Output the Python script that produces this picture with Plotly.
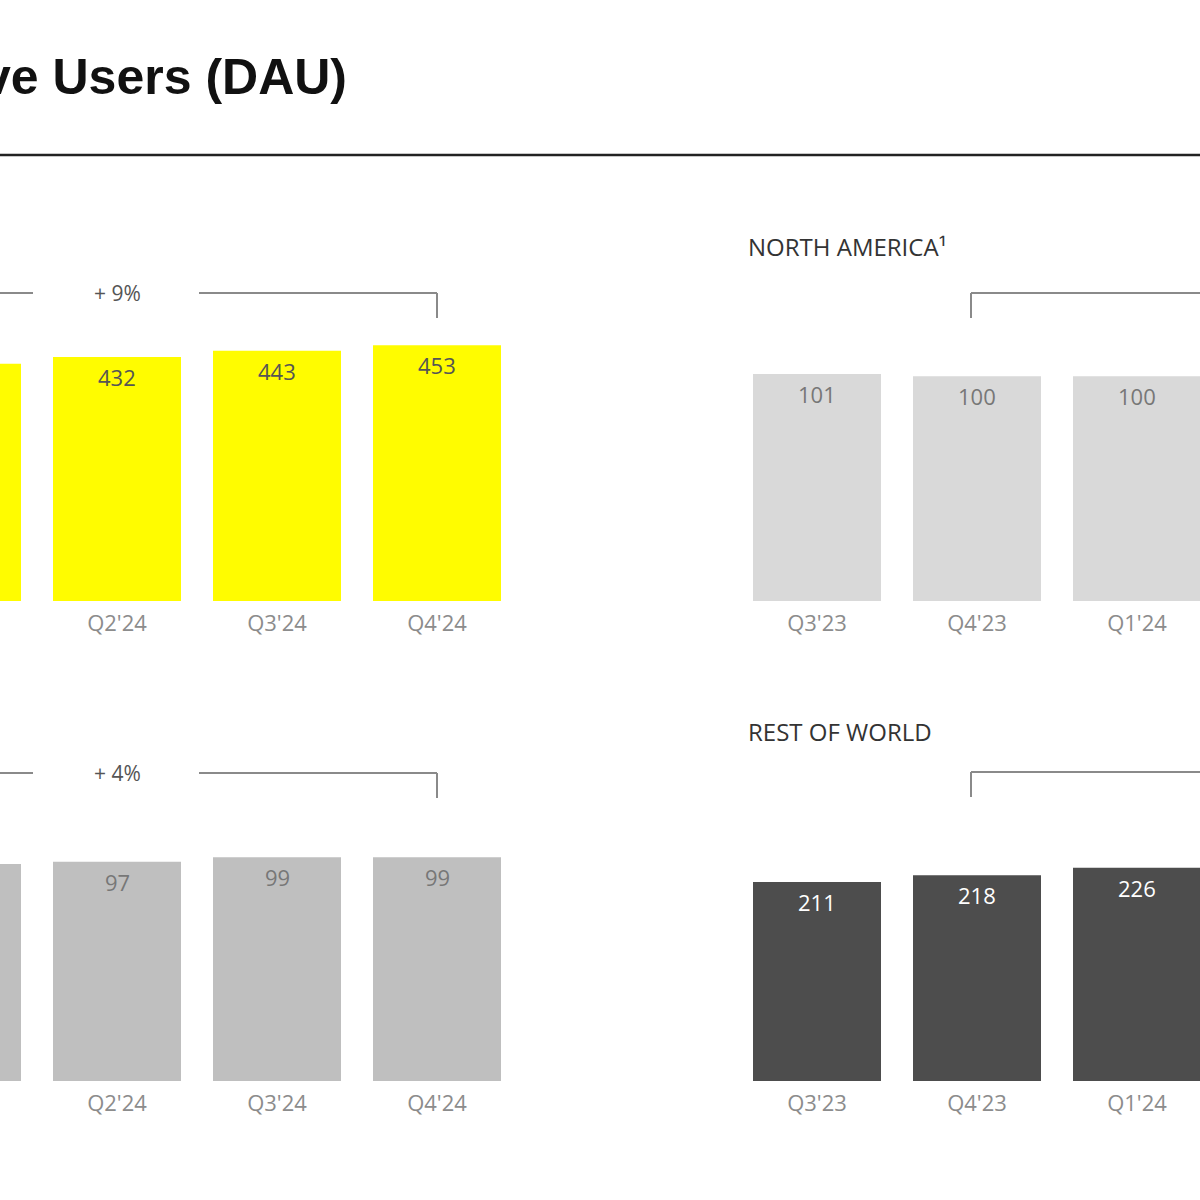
import plotly.graph_objects as go

# Daily Active Users (DAU), millions
global_quarters = ["Q1'24", "Q2'24", "Q3'24", "Q4'24"]
global_dau = [420, 432, 443, 453]
europe_dau = [96, 97, 99, 99]

region_quarters = ["Q3'23", "Q4'23", "Q1'24"]
na_dau = [101, 100, 100]
row_dau = [211, 218, 226]

global_growth = "+ 9%"
europe_growth = "+ 4%"

FONT = "Open Sans"
TICK_GREY = "#8c8c8c"
LINE_GREY = "#8a8a8a"

left_range = [0.26875, 3.64375]
right_range = [-0.60625, 2.39375]

panels = [
    # x categories, values, colour, label colour, axis suffix, x range, y range
    (global_quarters, global_dau, "#FFFC00", "#555555", "", left_range, [0, 710]),
    (region_quarters, na_dau, "#D9D9D9", "#777777", "2", right_range, [0, 178.5]),
    (global_quarters, europe_dau, "#BFBFBF", "#777777", "3", left_range, [0, 177.5]),
    (region_quarters, row_dau, "#4D4D4D", "#FFFFFF", "4", right_range, [0, 425]),
]

fig = go.Figure()
annotations = []
for cats, vals, color, lab_color, sfx, xr, yr in panels:
    fig.add_trace(go.Bar(
        x=cats, y=vals, width=0.8,
        marker=dict(color=color, line_width=0),
        xaxis="x" + sfx, yaxis="y" + sfx,
        hoverinfo="x+y", showlegend=False,
    ))
    for i, (c, v) in enumerate(zip(cats, vals)):
        if xr[0] < i < xr[1]:
            annotations.append(dict(
                x=c, y=v, xref="x" + sfx, yref="y" + sfx,
                text=str(v), showarrow=False, yanchor="middle", yshift=-20,
                font=dict(family=FONT, size=22, color=lab_color),
            ))

top_dom = [1 - 601 / 1200, 1 - 200 / 1200]
bot_dom = [1 - 1081 / 1200, 1 - 680 / 1200]

def xax(dom, rng, anchor):
    return dict(domain=dom, range=rng, type="category", anchor=anchor,
                showgrid=False, zeroline=False, showline=False, ticks="",
                ticklabelstandoff=7, fixedrange=True,
                tickfont=dict(family=FONT, size=22, color=TICK_GREY))

def yax(dom, rng):
    return dict(domain=dom, range=rng, visible=False, fixedrange=True)

# header rule
shapes = [dict(type="line", xref="paper", yref="paper", x0=0, x1=1,
               y0=1 - 155 / 1200, y1=1 - 155 / 1200,
               line=dict(color="#222222", width=2.5))]

# brackets for year-over-year growth
for sfx, y_px, growth in [("", 293, global_growth), ("3", 773, europe_growth)]:
    yb = 1 - y_px / 1200
    yv = 1 - (y_px + 25) / 1200
    line = dict(color=LINE_GREY, width=2)
    shapes += [
        dict(type="line", xref="x" + sfx, yref="paper", x0=-1, x1=0.475, y0=yb, y1=yb, line=line),
        dict(type="line", xref="x" + sfx, yref="paper", x0=1.5125, x1=3, y0=yb, y1=yb, line=line),
        dict(type="line", xref="x" + sfx, yref="paper", x0=3, x1=3, y0=yb, y1=yv, line=line),
    ]
    annotations.append(dict(x=1, y=yb, xref="x" + sfx, yref="paper", text=growth,
                            showarrow=False, yanchor="middle",
                            font=dict(family=FONT, size=21, color="#555555")))
for sfx, y_px in [("2", 293), ("4", 772)]:
    yb = 1 - y_px / 1200
    yv = 1 - (y_px + 25) / 1200
    line = dict(color=LINE_GREY, width=2)
    shapes += [
        dict(type="line", xref="x" + sfx, yref="paper", x0=0.9625, x1=6, y0=yb, y1=yb, line=line),
        dict(type="line", xref="x" + sfx, yref="paper", x0=0.9625, x1=0.9625, y0=yb, y1=yv, line=line),
    ]

annotations += [
    dict(x=349 / 1200, y=1 - 77 / 1200, xref="paper", yref="paper",
         text="<b>Daily Active Users (DAU)</b>", showarrow=False,
         xanchor="right", yanchor="middle",
         font=dict(family="Liberation Sans", size=50, color="#111111")),
    dict(x=746 / 1200, y=1 - 247 / 1200, xref="paper", yref="paper",
         text="NORTH AMERICA¹", showarrow=False, xanchor="left", yanchor="middle",
         font=dict(family=FONT, size=24, color="#333333")),
    dict(x=746 / 1200, y=1 - 731 / 1200, xref="paper", yref="paper",
         text="REST OF WORLD", showarrow=False, xanchor="left", yanchor="middle",
         font=dict(family=FONT, size=24, color="#333333")),
]

fig.update_layout(
    width=1200, height=1200,
    margin=dict(l=0, r=0, t=0, b=0),
    paper_bgcolor="white", plot_bgcolor="white",
    xaxis=xax([0, 0.45], left_range, "y"),
    yaxis=yax(top_dom, [0, 710]),
    xaxis2=xax([0.6, 1.0], right_range, "y2"),
    yaxis2=yax(top_dom, [0, 178.5]),
    xaxis3=xax([0, 0.45], left_range, "y3"),
    yaxis3=yax(bot_dom, [0, 177.5]),
    xaxis4=xax([0.6, 1.0], right_range, "y4"),
    yaxis4=yax(bot_dom, [0, 425]),
    shapes=shapes,
    annotations=annotations,
)

fig.write_html("out.html", config={"displayModeBar": False},
               post_script="document.body.style.margin = '0px';")
